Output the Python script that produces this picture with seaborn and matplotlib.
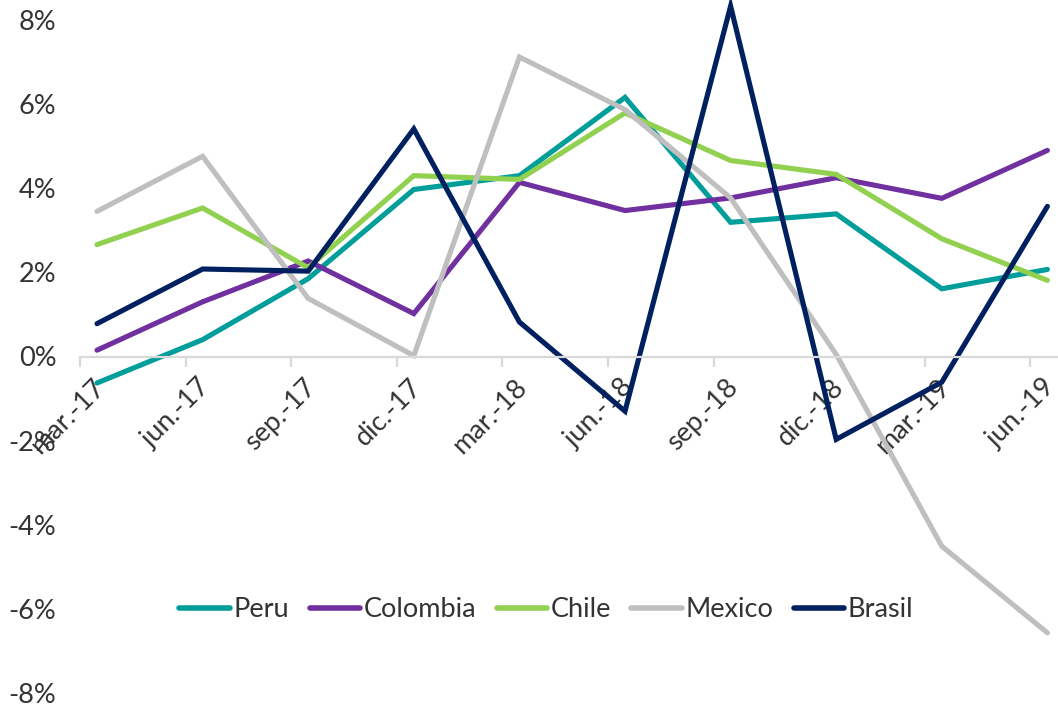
import numpy as np
import pandas as pd
import matplotlib
matplotlib.use("Agg")
import matplotlib.pyplot as plt
import matplotlib.transforms as mtransforms
import seaborn as sns

# Quarterly growth rates (%) by country
periods = ["mar.-17", "jun.-17", "sep.-17", "dic.-17", "mar.-18",
           "jun.-18", "sep.-18", "dic.-18", "mar.-19", "jun.-19"]
peru     = [-0.63, 0.40, 1.85, 3.97, 4.30, 6.16, 3.19, 3.39, 1.61, 2.07]
colombia = [0.15, 1.30, 2.27, 1.02, 4.14, 3.47, 3.77, 4.25, 3.76, 4.90]
chile    = [2.66, 3.53, 2.11, 4.30, 4.21, 5.79, 4.66, 4.33, 2.80, 1.81]
mexico   = [3.45, 4.76, 1.38, 0.02, 7.12, 5.87, 3.77, 0.05, -4.51, -6.57]
brasil   = [0.78, 2.08, 2.03, 5.41, 0.82, -1.30, 8.33, -1.97, -0.61, 3.57]

countries = ["Peru", "Colombia", "Chile", "Mexico", "Brasil"]
series = [peru, colombia, chile, mexico, brasil]
colors = ["#009E9A", "#7030A0", "#92D050", "#BFBFBF", "#002060"]
y_ticks = [-8, -6, -4, -2, 0, 2, 4, 6, 8]

rows = []
for name, vals in zip(countries, series):
    for i, v in enumerate(vals):
        rows.append({"pos": i, "valor": v, "pais": name})
df = pd.DataFrame(rows)

sns.set_theme(style="white")
plt.rcParams["font.family"] = ["Lato", "DejaVu Sans"]
text_color = "#333333"
axis_color = "#D9D9D9"
fs = 19.5

fig = plt.figure(figsize=(10.58, 7.07), dpi=100)
ax = fig.add_axes([80 / 1058, 1 - 693 / 707, 1 - 80 / 1058, (693 - 20) / 707])

sns.lineplot(data=df, x="pos", y="valor", hue="pais", hue_order=countries,
             palette=colors, linewidth=3.7, ax=ax, legend="auto",
             solid_capstyle="round", solid_joinstyle="miter", clip_on=False)

n = len(periods)
offset = 0.161
ax.set_xlim(-offset, (1058 - 80) / 105.6 - offset)
ax.set_ylim(-8, 8)

# Category axis crosses at zero
for s in ["left", "top", "right"]:
    ax.spines[s].set_visible(False)
ax.spines["bottom"].set_position(("data", 0))
ax.spines["bottom"].set_color(axis_color)
ax.spines["bottom"].set_linewidth(1.6)

ax.set_xticks(np.arange(n))
ax.set_xticklabels(periods)
ax.set_xticks(np.arange(n) - offset, minor=True)
ax.tick_params(axis="x", which="major", length=0, pad=13, labelsize=fs,
               labelcolor=text_color)
ax.tick_params(axis="x", which="minor", length=7, width=1.6, color=axis_color,
               direction="out", bottom=True)
shift = mtransforms.ScaledTranslation(-5 / 100, 0, fig.dpi_scale_trans)
for lbl in ax.get_xticklabels():
    lbl.set_rotation(45)
    lbl.set_rotation_mode("anchor")
    lbl.set_ha("right")
    lbl.set_va("top")
    lbl.set_transform(lbl.get_transform() + shift)

ax.set_yticks(y_ticks)
ax.set_yticklabels([f"{t}%" for t in y_ticks])
ax.tick_params(axis="y", length=0, pad=17, labelsize=fs, labelcolor=text_color)

ax.set_xlabel("")
ax.set_ylabel("")
ax.grid(False)

handles, labels = ax.get_legend_handles_labels()
leg = ax.legend(handles, labels, ncol=5, loc="center",
                bbox_to_anchor=(0.477, 0.124), frameon=False,
                fontsize=fs, handlelength=1.85, handletextpad=0.15,
                columnspacing=0.75, labelcolor=text_color)
for h in leg.get_lines():
    h.set_linewidth(4)
    h.set_solid_capstyle("round")

fig.savefig("out.png", dpi=100)
